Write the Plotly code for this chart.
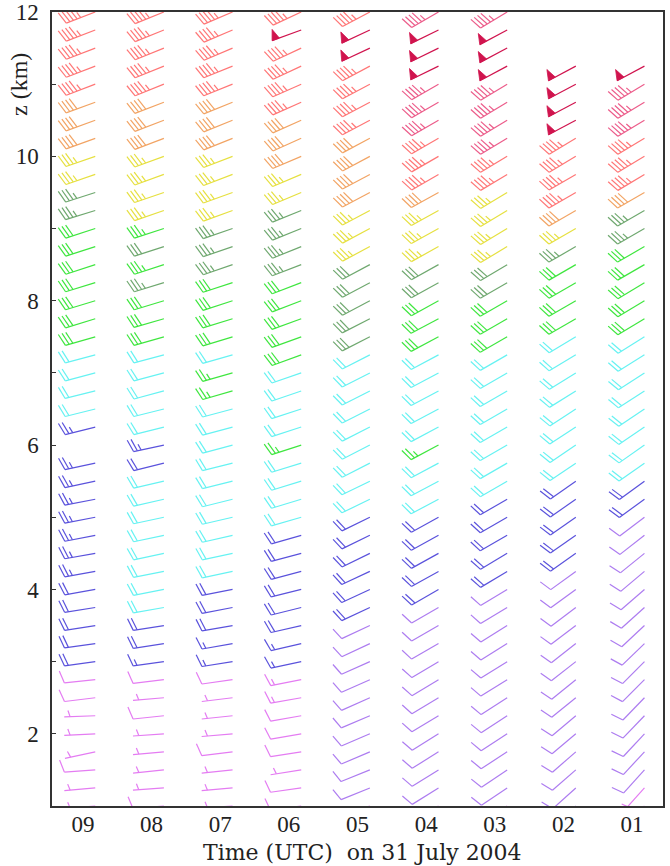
import math
import plotly.graph_objects as go

# ---------------- data ----------------
time_labels = ["09", "08", "07", "06", "05", "04", "03", "02", "01"]
time_hours = [9, 8, 7, 6, 5, 4, 3, 2, 1]
obs_offset_h = -0.18  # observation position relative to the hour tick

heights_km = [1.0, 1.25, 1.5, 1.75, 2.0, 2.25, 2.5, 2.75, 3.0, 3.25, 3.5, 3.75,
              4.0, 4.25, 4.5, 4.75, 5.0, 5.25, 5.5, 5.75, 6.0, 6.25, 6.5, 6.75,
              7.0, 7.25, 7.5, 7.75, 8.0, 8.25, 8.5, 8.75, 9.0, 9.25, 9.5, 9.75,
              10.0, 10.25, 10.5, 10.75, 11.0, 11.25, 11.5, 11.75, 12.0]

N = None
# wind speed (kt), bottom -> top
spd_09 = [5, 5, 10, 5, 5, 5, 10, 10, 20, 20, 20, 20, 20, 25, 25, 25, 25, 25, 25, 25,
          N, 25, 20, 20, 20, 20, 30, 30, 30, 30, 30, 30, 30, 35, 35, 35, 35, 40, 40, 40,
          45, 45, 45, 45, 45]
spd_08 = [10, 5, 5, 5, 5, 10, 5, 10, 15, 20, 20, 20, 20, 20, 20, 20, 20, 20, 20, 20,
          25, 20, 20, 20, 20, 20, 30, 30, 30, 35, 35, 30, 35, 35, 35, 35, 35, 40, 40, 40,
          45, 45, 45, 45, 45]
spd_07 = [5, 5, 5, 10, 5, 5, 5, 10, 15, 15, 20, 20, 20, 20, 20, 20, 20, 20, 20, 20,
          20, 20, 20, 25, 25, 20, 30, 30, 30, 30, 35, 35, 35, 35, 35, 35, 35, 40, 40, 40,
          45, 45, 45, 45, 45]
spd_06 = [10, 10, 5, 10, 10, 10, 15, 15, 15, 15, 20, 20, 20, 20, 20, 20, 20, 20, 20, 20,
          25, 20, 20, 20, 20, 30, 30, 30, 30, 30, 35, 35, 35, 35, 35, 35, 40, 40, 40, 45,
          45, 45, 45, 50, 45]
spd_05 = [15, 10, 10, 10, 10, 10, 10, 10, 10, 10, 10, 20, 20, 20, 20, 20, 20, 20, 20, 20,
          20, 20, 20, 20, 20, 20, 30, 30, 30, 30, 30, 35, 35, 35, 40, 40, 40, 40, 45, 45,
          45, 45, 50, 50, 45]
spd_04 = [15, 10, 10, 10, 10, 10, 10, 10, 10, 10, 10, 10, 20, 20, 20, 20, 20, 20, 20, 20,
          25, 20, 20, 20, 20, 20, 30, 30, 30, 30, 30, 35, 35, 35, 40, 45, 45, 45, 45, 45,
          45, 50, 50, 50, 45]
spd_03 = [15, 10, 10, 10, 10, 10, 10, 10, 10, 10, 10, 10, 10, 20, 20, 20, 20, 20, 20, 20,
          20, 20, 20, 20, 20, 20, 30, 30, 30, 30, 30, 35, 35, 35, 35, 45, 45, 45, 45, 45,
          45, 50, 50, 50, 45]
spd_02 = [10, 10, 10, 10, 10, 10, 10, 10, 10, 10, 10, 10, 10, 10, 20, 20, 20, 20, 20, 20,
          20, 20, 20, 20, 20, 20, 20, 30, 30, 30, 30, 35, 35, 40, 45, 45, 45, 45, 50, 50,
          50, 50, N, N, N]
spd_01 = [5, 5, 10, 10, 10, 10, 10, 10, 10, 10, 10, 10, 10, 10, 10, 10, 10, 20, 20, 20,
          20, 20, 20, 20, 20, 20, 20, 30, 30, 30, 30, 30, 35, 35, 40, 45, 45, 45, 45, 45,
          45, 50, N, N, N]

# wind direction (deg, meteorological "from"), bottom -> top
dir_09 = [265, 265, 266, 258, 267, 268, 263, 264, 262, 262, 261, 261, 260, 260, 260, 259,
          259, 259, 258, 258, N, 256, 256, 256, 255, 255, 254, 253, 253, 253, 252, 252,
          252, 253, 252, 251, 251, 250, 250, 250, 249, 249, 249, 249, 249]
dir_08 = [265, 266, 264, 265, 266, 264, 265, 263, 262, 261, 261, 260, 259, 259, 258, 258,
          258, 257, 257, 256, 258, 256, 256, 255, 255, 255, 254, 254, 253, 253, 252, 252,
          252, 251, 251, 250, 250, 249, 249, 249, 248, 248, 248, 248, 248]
dir_07 = [266, 265, 264, 263, 265, 264, 263, 262, 261, 260, 260, 259, 259, 258, 258, 257,
          257, 256, 256, 256, 255, 255, 255, 254, 254, 254, 253, 253, 252, 252, 251, 251,
          251, 250, 250, 249, 249, 248, 248, 248, 248, 248, 247, 247, 247]
dir_06 = [262, 262, 261, 261, 260, 260, 260, 259, 258, 257, 257, 256, 256, 255, 255, 254,
          254, 253, 253, 253, 252, 252, 252, 251, 251, 250, 250, 250, 249, 249, 249, 248,
          248, 248, 247, 247, 247, 246, 246, 246, 246, 245, 245, 250, 245]
dir_05 = [250, 248, 248, 247, 247, 247, 246, 246, 246, 245, 245, 245, 245, 245, 244, 244,
          244, 244, 244, 243, 243, 243, 243, 243, 243, 243, 243, 243, 242, 242, 242, 242,
          242, 242, 242, 242, 242, 242, 242, 242, 242, 242, 245, 245, 242]
dir_04 = [240, 238, 238, 238, 238, 239, 239, 239, 239, 240, 240, 240, 240, 241, 241, 241,
          241, 242, 242, 242, 242, 242, 242, 242, 242, 242, 242, 242, 241, 241, 241, 241,
          241, 241, 241, 240, 240, 240, 240, 240, 240, 244, 244, 244, 240]
dir_03 = [238, 236, 236, 237, 237, 237, 237, 238, 238, 238, 238, 239, 239, 239, 239, 240,
          240, 240, 240, 240, 240, 240, 240, 240, 240, 240, 240, 240, 240, 240, 239, 239,
          239, 239, 239, 239, 239, 239, 239, 239, 239, 242, 242, 242, 239]
dir_02 = [228, 228, 229, 229, 230, 230, 231, 231, 232, 232, 233, 233, 234, 234, 235, 235,
          235, 235, 235, 236, 236, 237, 237, 238, 238, 239, 239, 240, 240, 240, 240, 240,
          240, 240, 240, 240, 239, 239, 242, 242, 242, 242, N, N, N]
dir_01 = [222, 222, 222, 223, 223, 224, 224, 225, 225, 226, 227, 228, 229, 230, 231, 232,
          233, 234, 234, 235, 235, 236, 236, 237, 237, 238, 238, 239, 239, 239, 240, 240,
          240, 240, 240, 239, 239, 239, 239, 239, 239, 242, N, N, N]

# colour class of each barb, bottom -> top
cls_09 = "mmmmmmmmbbbbbbbbbbbb-bccccgggggggddyyooorrrrr"
cls_08 = "mmmmmmmmbbbccccccccbbcccccgggdgdgyyyyooorrrrr"
cls_07 = "mmmmmmmmbbbbbccccccccccggcggggdddyyyyooorrrrr"
cls_06 = "mmmmmmmmbbbbbbbbccccgccccgggggddddyyooorrrrkr"
cls_05 = "mppppppppppbbbbbbcccccccccdddddyyyoooorrrrkkr"
cls_04 = "mpppppppppppbbbbbcccgcccccgggddyyyorrrqqqkkkq"
cls_03 = "mppppppppppppbbbbbccccccccgggddyyyyrrqqqqkkkq"
cls_02 = "ppppppppppppppbbbbbccccccccggggdyorrrrkkkk---"
cls_01 = "mmpppppppppppppppbbccccccccgggggddorrrqqqk---"

palette = {
    "m": "#e47cf2", "p": "#ad7cf0", "b": "#5a52dc", "c": "#66f2f2",
    "g": "#3fe63f", "d": "#6fa86f", "y": "#e6e040", "o": "#f2a464",
    "r": "#ff7676", "q": "#ec5c8a", "k": "#d0144e",
}

columns = [
    (spd_09, dir_09, cls_09), (spd_08, dir_08, cls_08), (spd_07, dir_07, cls_07),
    (spd_06, dir_06, cls_06), (spd_05, dir_05, cls_05), (spd_04, dir_04, cls_04),
    (spd_03, dir_03, cls_03), (spd_02, dir_02, cls_02), (spd_01, dir_01, cls_01),
]

# ---------------- geometry ----------------
W, H = 670, 866
ML, MR, MT, MB = 52, 7, 12, 60
X_LEFT, X_RIGHT = 9.45, 0.55
Y_LOW, Y_HIGH = 1.0, 12.0
PW, PH = W - ML - MR, H - MT - MB
sx = PW / (X_LEFT - X_RIGHT)
sy = PH / (Y_HIGH - Y_LOW)
L = 31.0
SP, FH, FW = 0.125 * L, 0.4 * L, 0.25 * L


def barb(spd, wdir):
    r = math.radians(wdir)
    d = (math.sin(r), math.cos(r))
    p = (d[1], -d[0])
    tip = (L * d[0], L * d[1])

    def pt(o, h, a):
        return (tip[0] + (a - o) * d[0] + h * p[0], tip[1] + (a - o) * d[1] + h * p[1])

    lines = [[(0.0, 0.0), tip]]
    polys = []
    s = int(5 * round(spd / 5.0))
    nflag = s // 50
    s -= 50 * nflag
    nfull = s // 10
    s -= 10 * nfull
    half = s >= 5
    off = 0.0
    for _ in range(nflag):
        polys.append([pt(off, 0, 0), pt(off, FH * 0.85, -FW / 2), pt(off, 0, -FW), pt(off, 0, 0)])
        off += FW + SP
    for _ in range(nfull):
        lines.append([pt(off, 0, 0), pt(off, FH, FW / 2)])
        off += SP
    if half:
        if off == 0:
            off = 1.5 * SP
        lines.append([pt(off, 0, 0), pt(off, FH / 2, FW / 4)])
    return lines, polys


seg = {k: ([], []) for k in palette}
fil = {k: ([], []) for k in palette}
for ci, (spds, dirs, cls) in enumerate(columns):
    x0 = time_hours[ci] + obs_offset_h
    for zi, z in enumerate(heights_km):
        if spds[zi] is None or dirs[zi] is None or cls[zi] == "-":
            continue
        lines, polys = barb(spds[zi], dirs[zi])
        key = cls[zi]
        for ln in lines:
            for (px, py) in ln:
                seg[key][0].append(x0 - px / sx)
                seg[key][1].append(z + py / sy)
            seg[key][0].append(None)
            seg[key][1].append(None)
        for pg in polys:
            for (px, py) in pg:
                fil[key][0].append(x0 - px / sx)
                fil[key][1].append(z + py / sy)
            fil[key][0].append(None)
            fil[key][1].append(None)

fig = go.Figure()
for k, col in palette.items():
    if fil[k][0]:
        fig.add_trace(go.Scatter(x=fil[k][0], y=fil[k][1], mode="lines", fill="toself",
                                 fillcolor=col, line=dict(color=col, width=0.8),
                                 hoverinfo="skip", showlegend=False))
    if seg[k][0]:
        fig.add_trace(go.Scatter(x=seg[k][0], y=seg[k][1], mode="lines",
                                 line=dict(color=col, width=1.2),
                                 hoverinfo="skip", showlegend=False))

FONT = "Liberation Serif"
fig.update_layout(
    width=W, height=H,
    margin=dict(l=ML, r=MR, t=MT, b=MB, autoexpand=False),
    paper_bgcolor="white", plot_bgcolor="white",
    font=dict(family=FONT, size=23, color="#222"),
    xaxis=dict(range=[X_LEFT, X_RIGHT], tickvals=time_hours, ticktext=time_labels,
               ticks="", ticklen=0, showline=True, mirror=True, linecolor="#333", linewidth=1.5,
               showgrid=False, zeroline=False, automargin=False, ticklabelstandoff=-3),
    yaxis=dict(range=[Y_LOW, Y_HIGH], tickvals=[2, 4, 6, 8, 10, 12],
               ticks="inside", ticklen=4, tickcolor="#333",
               minor=dict(dtick=1, ticks="inside", ticklen=4, tickcolor="#333"),
               showline=True, mirror=True, linecolor="#333", linewidth=1.5,
               showgrid=False, zeroline=False, automargin=False, ticklabelstandoff=7),
    annotations=[
        dict(text="z (km)", x=(19 - ML) / PW, y=(H - MB - 85) / PH,
             xref="paper", yref="paper", xanchor="center", yanchor="middle",
             showarrow=False, textangle=-90, font=dict(family=FONT, size=24)),
        dict(text="Time (UTC)  on 31 July 2004", x=(362 - ML) / PW, y=(H - MB - 852) / PH,
             xref="paper", yref="paper", xanchor="center", yanchor="middle",
             showarrow=False, font=dict(family="DejaVu Serif", size=22)),
    ],
)

fig.write_html("out.html", config={"displayModeBar": False},
               post_script="document.body.style.margin='0';")
